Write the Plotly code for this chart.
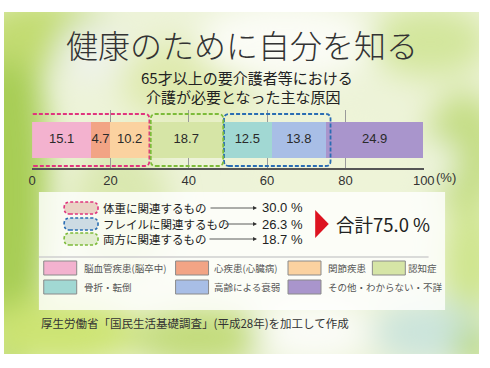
import base64
import plotly.graph_objects as go

# ---------------- data ----------------
categories = ["脳血管疾患(脳卒中)", "心疾患(心臓病)", "関節疾患", "認知症",
              "骨折・転倒", "高齢による衰弱", "その他・わからない・不詳"]
values = [15.1, 4.7, 10.2, 18.7, 12.5, 13.8, 24.9]
colors = ["#f3b2cf", "#f2a485", "#fbd2a0", "#d6e5a6", "#a1d8d3", "#a8bee6", "#a995cc"]
tick_vals = [0, 20, 40, 60, 80, 100]
tick_text = ["0", "20", "40", "60", "80", "100"]

group_names = ["体重に関連するもの", "フレイルに関連するもの", "両方に関連するもの"]
group_members = [[0, 1, 2], [4, 5], [3]]
group_line = ["#e0357e", "#2a6db3", "#7dbb3a"]
group_fill = ["#ead2c4", "#cddbe3", "#e2edcf"]

title = "健康のために自分を知る"
subtitle1 = "65才以上の要介護者等における"
subtitle2 = "介護が必要となった主な原因"
total_label = "合計"
source = "厚生労働省「国民生活基礎調査」(平成28年)を加工して作成"

# ---------------- helpers ----------------
W, H = 490, 368
JP = "Noto Sans CJK JP"
LAT = "Liberation Sans, Arial, sans-serif"


def px(x):
    return x / W


def py(y):
    return 1 - y / H


def round_path(x0, x1, y0, y1, rx, ry):
    return (f"M {x0+rx},{y0} L {x1-rx},{y0} Q {x1},{y0} {x1},{y0+ry} "
            f"L {x1},{y1-ry} Q {x1},{y1} {x1-rx},{y1} L {x0+rx},{y1} "
            f"Q {x0},{y1} {x0},{y1-ry} L {x0},{y0+ry} Q {x0},{y0} {x0+rx},{y0} Z")


starts = []
acc = 0.0
for v in values:
    starts.append(acc)
    acc += v
mids = [s + v / 2 for s, v in zip(starts, values)]

fig = go.Figure()

# background (blurred foliage)
svg = """<svg xmlns='http://www.w3.org/2000/svg' width='490' height='342' viewBox='0 0 490 342'>
<defs><filter id='b' x='-50%' y='-50%' width='200%' height='200%'><feGaussianBlur stdDeviation='16'/></filter></defs>
<rect width='490' height='342' fill='#edf3d8'/>
<g filter='url(#b)'>
<ellipse cx='5' cy='180' rx='40' ry='190' fill='#a7cd55'/>
<ellipse cx='40' cy='20' rx='70' ry='35' fill='#c3dc72'/>
<ellipse cx='90' cy='40' rx='35' ry='30' fill='#eef2ea'/>
<ellipse cx='190' cy='70' rx='70' ry='40' fill='#dfeaae'/>
<ellipse cx='290' cy='30' rx='90' ry='40' fill='#fbfcf6'/>
<ellipse cx='440' cy='30' rx='60' ry='35' fill='#d3e69c'/>
<ellipse cx='475' cy='140' rx='40' ry='60' fill='#c4dd84'/>
<ellipse cx='450' cy='150' rx='15' ry='20' fill='#f6f9ee'/>
<ellipse cx='482' cy='250' rx='30' ry='60' fill='#cfe58e'/>
<ellipse cx='60' cy='320' rx='80' ry='35' fill='#cde473'/>
<ellipse cx='200' cy='325' rx='70' ry='30' fill='#c2db7a'/>
<ellipse cx='320' cy='320' rx='60' ry='30' fill='#fbfcf8'/>
<ellipse cx='440' cy='320' rx='60' ry='30' fill='#cbe4dc'/>
<ellipse cx='485' cy='335' rx='20' ry='20' fill='#b3d670'/>
<ellipse cx='120' cy='200' rx='50' ry='70' fill='#dae8b0'/>
<ellipse cx='340' cy='160' rx='80' ry='60' fill='#eef4d8'/>
</g></svg>"""
src = "data:image/svg+xml;base64," + base64.b64encode(svg.encode()).decode()
fig.add_layout_image(source=src, xref="paper", yref="paper", x=0, y=py(12),
                     sizex=1, sizey=342 / H, sizing="stretch", layer="below",
                     xanchor="left", yanchor="top")

# bars
fig.add_trace(go.Bar(x=values, base=starts, y=[28] * len(values), orientation="h",
                     width=36, marker=dict(color=colors, line=dict(width=0)),
                     hoverinfo="skip", showlegend=False))
fig.add_trace(go.Scatter(x=mids, y=[28] * len(values), mode="text",
                         text=[f"{v:.1f}" for v in values],
                         textfont=dict(family=LAT, size=13, color="#2a2a2a"),
                         hoverinfo="skip", showlegend=False))

shapes = []
# group dashed rounded boxes (data coords; y-axis units = pixels)
pads = [(-0.8, -0.05), (0.3, 1.2), (0.3, 0.1)]
rx_d, ry_d = 5 / 4.04, 5
for gi, mem in enumerate(group_members):
    x0 = starts[mem[0]] + pads[gi][0]
    x1 = starts[mem[-1]] + values[mem[-1]] + pads[gi][1]
    shapes.append(dict(type="path", xref="x", yref="y",
                       path=round_path(x0, x1, 2, 54, rx_d, ry_d),
                       line=dict(color=group_line[gi], width=1.8, dash="4px,2px"),
                       layer="above"))

# legend panel
shapes.append(dict(type="rect", xref="paper", yref="paper", x0=px(36), x1=px(455),
                   y0=py(310), y1=py(192), fillcolor="rgba(255,255,255,0.8)",
                   line=dict(width=0), layer="below"))
shapes.append(dict(type="line", xref="paper", yref="paper", x0=px(36), x1=px(438),
                   y0=py(257), y1=py(257), line=dict(color="#cfcfcf", width=1.5)))

annotations = []
row_y = [208, 224, 239]
tails = [213, 228, 212]
for gi, name in enumerate(group_names):
    yc = row_y[gi]
    shapes.append(dict(type="path", xref="paper", yref="paper",
                       path=round_path(px(62), px(97), py(yc + 6), py(yc - 6), 6 / W, 6 / H),
                       fillcolor=group_fill[gi],
                       line=dict(color=group_line[gi], width=1.6, dash="3px,2px")))
    annotations.append(dict(x=px(100), y=py(yc), xref="paper", yref="paper", text=name,
                            showarrow=False, xanchor="left", yanchor="middle",
                            font=dict(family=JP, size=11.5, color="#222")))
    annotations.append(dict(x=px(261), y=py(yc), xref="paper", yref="paper", text="",
                            showarrow=True, ax=tails[gi] - 261, ay=0, arrowhead=2,
                            arrowsize=1, arrowwidth=0.8, arrowcolor="#333"))
    pct = sum(values[i] for i in group_members[gi])
    annotations.append(dict(x=px(311), y=py(yc), xref="paper", yref="paper",
                            text=f"{pct:.1f} %", showarrow=False, xanchor="right",
                            yanchor="middle", font=dict(family=LAT, size=13, color="#222")))

total = sum(values[i] for m in group_members for i in m)
shapes.append(dict(type="path", xref="paper", yref="paper",
                   path=f"M {px(321)},{py(210)} L {px(335)},{py(224)} L {px(321)},{py(238)} Z",
                   fillcolor="#dd1320", line=dict(width=0)))
annotations.append(dict(x=px(340), y=py(224), xref="paper", yref="paper",
                        text=f"{total_label}{total:.1f} %", showarrow=False,
                        xanchor="left", yanchor="middle",
                        font=dict(family=JP, size=18.5, color="#222")))

# category colour legend
sw_x = [41, 177, 293, 380]
tx_x = [80, 215, 332, 415]
leg_rows = [268, 287]
for i, (name, col) in enumerate(zip(categories, colors)):
    r, c = divmod(i, 4)
    yc = leg_rows[r]
    shapes.append(dict(type="rect", xref="paper", yref="paper", x0=px(sw_x[c]),
                       x1=px(sw_x[c] + 34), y0=py(yc + 7), y1=py(yc - 7),
                       fillcolor=col, line=dict(color="#8a8a8a", width=1)))
    annotations.append(dict(x=px(tx_x[c]), y=py(yc), xref="paper", yref="paper",
                            text=name, showarrow=False, xanchor="left", yanchor="middle",
                            font=dict(family=JP, size=9.5, color="#555")))

# titles
annotations.append(dict(x=px(245), y=py(44), xref="paper", yref="paper", text=title,
                        showarrow=False, xanchor="center", yanchor="middle",
                        font=dict(family="Noto Sans CJK JP Light, Noto Sans CJK JP",
                                  size=32, color="#333", weight=200)))
annotations.append(dict(x=px(251), y=py(77), xref="paper", yref="paper", text=subtitle1,
                        showarrow=False, xanchor="center", yanchor="middle",
                        font=dict(family=JP, size=15, color="#222")))
annotations.append(dict(x=px(247), y=py(96), xref="paper", yref="paper", text=subtitle2,
                        showarrow=False, xanchor="center", yanchor="middle",
                        font=dict(family=JP, size=15, color="#222")))
annotations.append(dict(x=px(36), y=py(323), xref="paper", yref="paper", text=source,
                        showarrow=False, xanchor="left", yanchor="middle",
                        font=dict(family=JP, size=11.5, color="#333")))
annotations.append(dict(x=px(444), y=py(177), xref="paper", yref="paper", text="(%)",
                        showarrow=False, xanchor="left", yanchor="middle",
                        font=dict(family=LAT, size=13, color="#333")))

fig.update_layout(
    width=W, height=H, margin=dict(l=0, r=0, t=0, b=0),
    paper_bgcolor="white", plot_bgcolor="rgba(0,0,0,0)",
    xaxis=dict(domain=[px(29), px(433)], range=[0, 100], tickvals=tick_vals,
               ticktext=tick_text, showgrid=True, gridcolor="#9a9a9a", gridwidth=1,
               showline=True, linecolor="#555", linewidth=1.5, zeroline=False,
               ticks="", tickfont=dict(family=LAT, size=13, color="#333"),
               fixedrange=True),
    yaxis=dict(domain=[py(168), py(110)], range=[0, 58], visible=False, fixedrange=True),
    shapes=shapes, annotations=annotations, bargap=0,
)

fig.write_html("out.html", config={"displayModeBar": False},
               post_script="document.body.style.margin='0';document.body.style.padding='0';")
